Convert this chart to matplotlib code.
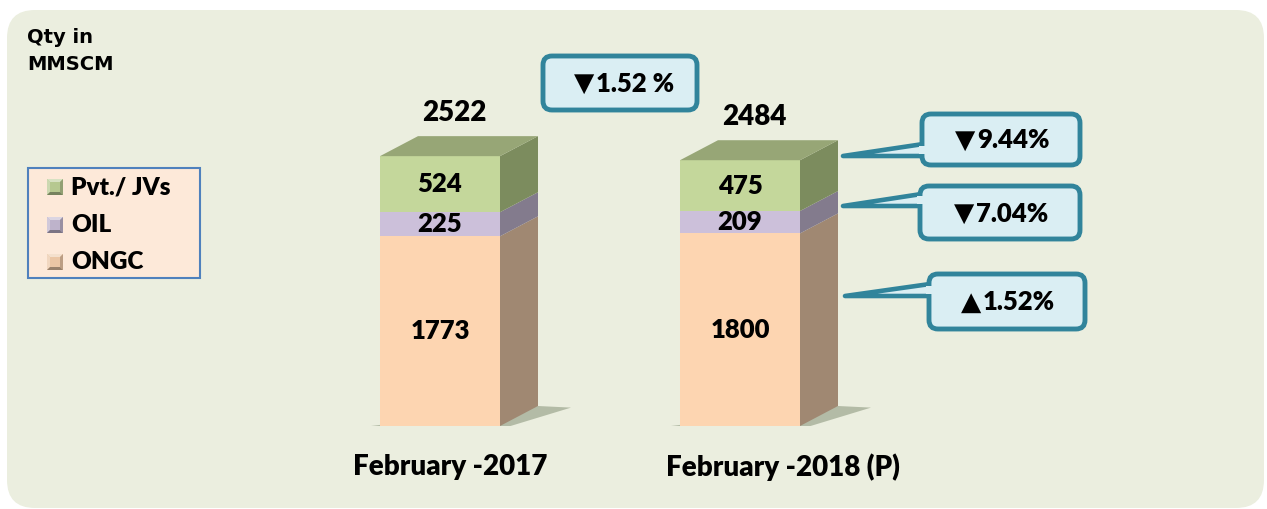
import numpy as np
import matplotlib
matplotlib.use("Agg")
import matplotlib.pyplot as plt
from matplotlib.patches import Polygon, FancyBboxPatch, Rectangle
from matplotlib.colors import to_rgb

# data (MMSCM)
categories = ["February -2017", "February -2018 (P)"]
ongc = [1773, 1800]
oil = [225, 209]
pvt = [524, 475]
totals = [2522, 2484]
series_names = ["ONGC", "OIL", "Pvt./ JVs"]
changes = ["\u25BC9.44%", "\u25BC7.04%", "\u25B21.52%"]   # Pvt, OIL, ONGC
total_change = "\u25BC1.52 %"

FONT = ["Lato", "DejaVu Sans"]
WT = 800
front_cols = ["#FDD5B1", "#CCC0DA", "#C4D79B"]
side_cols = ["#A08872", "#837B8D", "#7C8C5E"]
top_col = "#97A676"
panel_col = "#EBEEDF"
box_fill = "#DAEEF3"
box_edge = "#31849B"

W, H = 1267, 509
fig = plt.figure(figsize=(W / 100, H / 100), dpi=100)
fig.patch.set_facecolor("white")

# background panel (pixel coords)
bg = fig.add_axes([0, 0, 1, 1], zorder=0)
bg.set_xlim(0, W)
bg.set_ylim(H, 0)
bg.axis("off")
bg.add_patch(FancyBboxPatch((7, 10), 1257, 498, boxstyle="round,pad=0,rounding_size=28",
                            fc=panel_col, ec="none"))

# main bar axes
ax = fig.add_axes([0, 83 / H, 1, 321 / H], zorder=1)
ax.patch.set_alpha(0)
ax.set_ylim(0, 3000)
ax.set_xlim(-440 / 300, 827 / 300)
ax.axis("off")

x = np.arange(len(categories))
w = 0.4
dx = 38 / 300
dy = 20 / 0.107

stack = [ongc, oil, pvt]
bottoms = np.zeros(len(x))
for k, vals in enumerate(stack):
    vals = np.array(vals, dtype=float)
    ax.bar(x, vals, width=w, bottom=bottoms, color=front_cols[k], edgecolor="none", zorder=3)
    for i in range(len(x)):
        b, t = bottoms[i], bottoms[i] + vals[i]
        xr = x[i] + w / 2
        ax.add_patch(Polygon([(xr, b), (xr + dx, b + dy), (xr + dx, t + dy), (xr, t)],
                             closed=True, fc=side_cols[k], ec="none", zorder=2))
        ax.text(x[i], b + vals[i] / 2, str(int(vals[i])), ha="center", va="center",
                fontsize=18.5, fontweight=WT, family=FONT, zorder=5)
    bottoms += vals

for i in range(len(x)):
    T = bottoms[i]
    xl, xr = x[i] - w / 2, x[i] + w / 2
    # top face
    ax.add_patch(Polygon([(xl, T), (xr, T), (xr + dx, T + dy), (xl + dx, T + dy)],
                         closed=True, fc=top_col, ec="none", zorder=4))
    # thin shadow at the base
    ax.add_patch(Polygon([(xl - 0.045, -5), (xr, -30), (xr + dx + 0.11, dy - 15), (xr + dx, dy)],
                         closed=True, fc="#8E9A80", ec="none", alpha=0.6, zorder=1))
    ax.text(x[i] + dx / 2 - 0.015, T + dy + 220, str(totals[i]), ha="center", va="center",
            fontsize=20, fontweight=WT, family=FONT, zorder=5)

label_shift = [0.033, 0.143]
for i, lab in enumerate(categories):
    ax.text(x[i] + label_shift[i], -385, lab, ha="center", va="center",
            fontsize=20, fontweight=WT, family=FONT)

# overlay: legend, unit title, callouts (pixel coords)
ov = fig.add_axes([0, 0, 1, 1], zorder=2)
ov.patch.set_alpha(0)
ov.set_xlim(0, W)
ov.set_ylim(H, 0)
ov.axis("off")

ov.text(27, 37, "Qty in", ha="left", va="center", fontsize=14, fontweight="bold",
        family="DejaVu Sans")
ov.text(27, 64, "MMSCM", ha="left", va="center", fontsize=14, fontweight="bold",
        family="DejaVu Sans")


def shade(c, f):
    r = np.array(to_rgb(c))
    return tuple(np.clip(r * f if f < 1 else r + (1 - r) * (f - 1), 0, 1))


def bevel_marker(x0, y0, s, c):
    b = 3
    pts = {"top": [(x0, y0), (x0 + s, y0), (x0 + s - b, y0 + b), (x0 + b, y0 + b)],
           "left": [(x0, y0), (x0 + b, y0 + b), (x0 + b, y0 + s - b), (x0, y0 + s)],
           "right": [(x0 + s, y0), (x0 + s, y0 + s), (x0 + s - b, y0 + s - b), (x0 + s - b, y0 + b)],
           "bot": [(x0, y0 + s), (x0 + b, y0 + s - b), (x0 + s - b, y0 + s - b), (x0 + s, y0 + s)]}
    facs = {"top": 1.45, "left": 1.3, "right": 0.8, "bot": 0.65}
    ov.add_patch(Rectangle((x0, y0), s, s, fc=c, ec="none"))
    for key, p in pts.items():
        ov.add_patch(Polygon(p, closed=True, fc=shade(c, facs[key]), ec="none"))


# legend
ov.add_patch(Rectangle((28, 168), 172, 110, fc="#FDE9D9", ec="#4F81BD", lw=1.5))
leg_y = [187, 225, 262]
for j, k in enumerate([2, 1, 0]):
    bevel_marker(47, leg_y[j] - 8, 16, shade(front_cols[k], 0.93))
    ov.text(71, leg_y[j], series_names[k], ha="left", va="center", fontsize=17.5,
            fontweight=WT, family=FONT)


def callout(x0, y0, bw, bh, text, tip=None):
    if tip is not None:
        tx, ty = tip
        wedge = [(tx, ty), (x0 + 8, ty - 13), (x0 + 8, ty)]
        ov.add_patch(Polygon(wedge, closed=True, fc=box_fill, ec=box_edge, lw=3.3,
                             joinstyle="round", zorder=3))
    ov.add_patch(FancyBboxPatch((x0, y0), bw, bh, boxstyle="round,pad=0,rounding_size=9",
                                fc=box_fill, ec=box_edge, lw=3.5, zorder=4))
    if tip is not None:
        ov.add_patch(Polygon([(x0 - 3, ty - 10.5), (x0 + 8, ty - 10.5),
                              (x0 + 8, ty - 2.5), (x0 - 3, ty - 2.5)],
                             closed=True, fc=box_fill, ec="none", zorder=5))
    arrow, rest = text[0], text[1:]
    cx, cy = x0 + bw / 2, y0 + bh / 2 + 1
    ov.text(cx - 36, cy, arrow, ha="center", va="center", fontsize=19,
            family="DejaVu Sans", zorder=6)
    ov.text(cx - 24, cy, rest, ha="left", va="center", fontsize=18.5,
            fontweight=WT, family=FONT, zorder=6)


callout(543, 56, 154, 54, total_change)
callout(922, 114, 158, 51, changes[0], tip=(843, 156))
callout(920, 186, 160, 53, changes[1], tip=(843, 206))
callout(929, 274, 156, 55, changes[2], tip=(845, 296))

fig.savefig("out.png", dpi=100)
